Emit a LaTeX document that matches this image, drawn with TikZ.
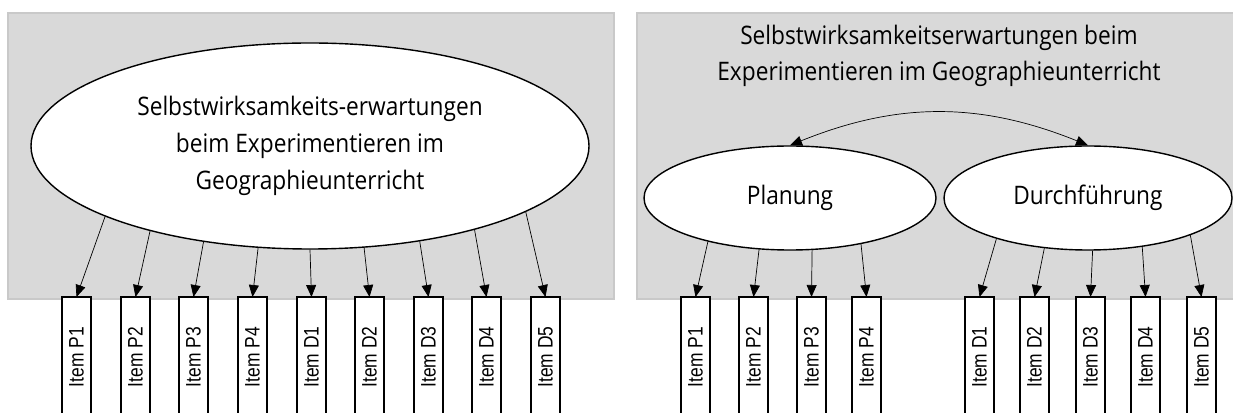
\documentclass[tikz,border=0pt]{standalone}
\usepackage{fontspec}
\setmainfont{Open Sans}[FakeStretch=0.89]
\newfontfamily\itemfont{Liberation Sans}[FakeStretch=0.83]
\usetikzlibrary{positioning,shapes.geometric,arrows.meta}

\tikzset{
  panel/.style={fill=black!15,draw=black!21,line width=1.5pt},
  latent/.style={ellipse,draw,fill=white,line width=1.4pt,align=center,
    font=\fontsize{25.5}{36.7}\selectfont},
  itembox/.style={draw,fill=white,line width=2pt,anchor=north,inner sep=0pt,outer sep=0pt,
    minimum width=29pt,minimum height=120pt,font=\itemfont\fontsize{21}{24}\selectfont},
  load/.style={-{Triangle[length=12pt,width=10pt]},line width=0.7pt},
}

\begin{document}
\begin{tikzpicture}[x=1pt,y=1pt]
\clip (0,0) rectangle (1233,412);
%
\filldraw[panel] (8,113) rectangle (614,399);
\filldraw[panel] (637,113) rectangle (1245,399);
%
% linkes Modell (einfaktoriell)
\node[latent,minimum width=558pt,minimum height=206pt] (lat) at (310,266)
  {Selbstwirksamkeits-erwartungen\\beim Experimentieren im\\Geographieunterricht};
%
\node[itembox] (lp1) at (76.5,115) {\rotatebox{90}{Item P1}};
\node[itembox] (lp2) at (135.5,115) {\rotatebox{90}{Item P2}};
\node[itembox] (lp3) at (193.5,115) {\rotatebox{90}{Item P3}};
\node[itembox] (lp4) at (252.5,115) {\rotatebox{90}{Item P4}};
\node[itembox] (ld1) at (311.5,115) {\rotatebox{90}{Item D1}};
\node[itembox] (ld2) at (369.5,115) {\rotatebox{90}{Item D2}};
\node[itembox] (ld3) at (428.5,115) {\rotatebox{90}{Item D3}};
\node[itembox] (ld4) at (486.5,115) {\rotatebox{90}{Item D4}};
\node[itembox] (ld5) at (545.5,115) {\rotatebox{90}{Item D5}};
%
\draw[load] (lat.199) -- (lp1.north);
\draw[load] (lat.208) -- (lp2.north);
\draw[load] (lat.222) -- (lp3.north);
\draw[load] (lat.243) -- (lp4.north);
\draw[load] (lat.270) -- (ld1.north);
\draw[load] (lat.298) -- (ld2.north);
\draw[load] (lat.319) -- (ld3.north);
\draw[load] (lat.333) -- (ld4.north);
\draw[load] (lat.343) -- (ld5.north);
%
% rechtes Modell (zweifaktoriell)
\node[align=center,font=\fontsize{25.5}{36.7}\selectfont] (ttl) at (939,356)
  {Selbstwirksamkeitserwartungen beim\\Experimentieren im Geographieunterricht};
\node[latent,minimum width=292pt,minimum height=104pt] (plan) at (790,214) {Planung};
\node[latent,minimum width=288pt,minimum height=104pt] (durch) at (1088,214) {Durchführung};
%
\node[itembox] (rp1) at (695.5,115) {\rotatebox{90}{Item P1}};
\node[itembox] (rp2) at (753.5,115) {\rotatebox{90}{Item P2}};
\node[itembox] (rp3) at (811.5,115) {\rotatebox{90}{Item P3}};
\node[itembox] (rp4) at (866.5,115) {\rotatebox{90}{Item P4}};
\node[itembox] (rd1) at (979.5,115) {\rotatebox{90}{Item D1}};
\node[itembox] (rd2) at (1034.5,115) {\rotatebox{90}{Item D2}};
\node[itembox] (rd3) at (1090.5,115) {\rotatebox{90}{Item D3}};
\node[itembox] (rd4) at (1145.5,115) {\rotatebox{90}{Item D4}};
\node[itembox] (rd5) at (1201.5,115) {\rotatebox{90}{Item D5}};
%
\draw[{Triangle[length=12pt,width=10pt]}-{Triangle[length=12pt,width=10pt]},line width=0.7pt]
  (plan.north) to[bend left=22] (durch.north);
%
\draw[load] (plan.208) -- (rp1.north);
\draw[load] (plan.239) -- (rp2.north);
\draw[load] (plan.293) -- (rp3.north);
\draw[load] (plan.327) -- (rp4.north);
\draw[load] (durch.204) -- (rd1.north);
\draw[load] (durch.229) -- (rd2.north);
\draw[load] (durch.275) -- (rd3.north);
\draw[load] (durch.318) -- (rd4.north);
\draw[load] (durch.340) -- (rd5.north);
\end{tikzpicture}
\end{document}
